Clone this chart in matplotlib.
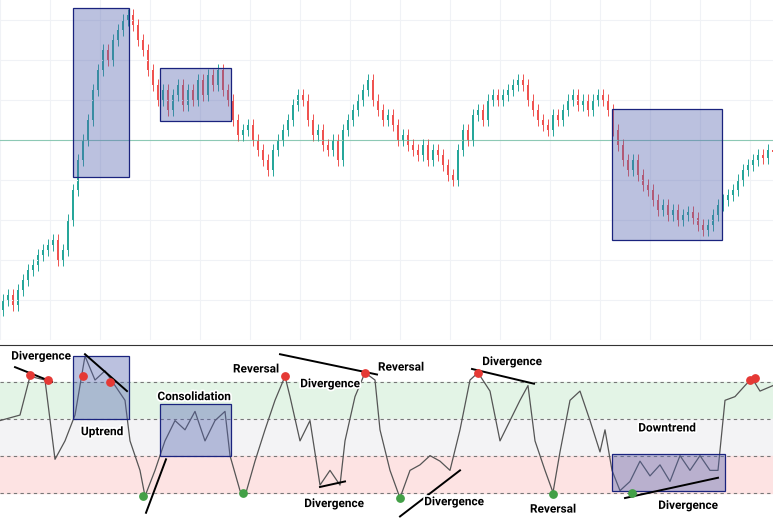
import matplotlib

matplotlib.use("Agg")
import matplotlib.pyplot as plt
import matplotlib.patheffects as pe
from matplotlib.patches import Rectangle
import numpy as np

# price closes, one candle every 5 px of width
closes = [
    40, 45, 35, 50, 60, 70, 75, 85, 90, 95,
    100, 80, 90, 120, 150, 180, 200, 220, 250, 270,
    290, 280, 300, 310, 320, 325, 315, 300, 290, 270,
    255, 240, 250, 230, 245, 255, 235, 250, 240, 260,
    245, 265, 255, 270, 250, 240, 220, 205, 210, 215,
    200, 190, 180, 170, 190, 200, 210, 220, 235, 245,
    240, 220, 205, 210, 195, 190, 200, 180, 210, 220,
    230, 240, 250, 260, 240, 230, 220, 225, 215, 200,
    205, 195, 190, 185, 195, 180, 190, 185, 175, 165,
    160, 190, 210, 200, 225, 230, 220, 240, 245, 240,
    245, 250, 255, 260, 255, 240, 230, 220, 215, 210,
    225, 220, 230, 240, 245, 235, 240, 230, 240, 245,
    240, 230, 210, 195, 180, 170, 180, 165, 155, 150,
    140, 130, 135, 125, 130, 120, 125, 128, 122, 115,
    110, 115, 125, 135, 140, 145, 150, 160, 170, 175,
    180, 185, 182, 190, 188,
]
first_open = 30
ref_level = 200

# highlight boxes on price panel: x0, x1, low, high
price_boxes = [(73, 129, 163, 332), (160, 231, 219, 272), (612, 722, 100, 231)]

# oscillator
osc_x = [0, 20, 30, 45, 55, 65, 75, 85, 95, 105, 115, 125, 130, 140, 145, 155, 165, 175,
         185, 195, 205, 215, 225, 230, 240, 245, 255, 265, 275, 285, 290, 300, 310, 320,
         330, 340, 345, 355, 365, 375, 380, 390, 400, 410, 420, 430, 440, 450, 460, 470,
         478, 490, 500, 510, 520, 528, 535, 545, 553, 560, 570, 580, 590, 600, 605, 612,
         620, 630, 640, 650, 660, 670, 680, 690, 700, 710, 718, 725, 735, 745, 752, 760, 773]
osc_y = [59, 62, 83, 81, 38, 48, 62, 94, 81, 86, 78, 70, 48, 32, 18, 32, 48, 59,
         54, 64, 48, 59, 64, 40, 21, 18, 37, 54, 70, 83, 72, 48, 59, 24,
         32, 24, 48, 72, 85, 81, 54, 32, 17, 32, 35, 40, 37, 32, 54, 81,
         85, 75, 48, 59, 70, 78, 48, 32, 20, 42, 70, 75, 59, 42, 54, 32,
         21, 26, 37, 29, 35, 26, 40, 32, 40, 32, 32, 70, 72, 78, 82, 75, 78]
levels = [80, 60, 40, 20]
red_x = [30, 48, 83, 110, 285, 365, 478, 750, 755]
red_y = [84, 81, 83, 80, 83, 85, 85, 81, 82]
green_x = [143, 243, 400, 553, 632]
green_y = [18, 20, 17, 19, 20]
osc_boxes = [(73, 129, 60, 94), (160, 231, 40, 68), (612, 725, 21, 41)]
trend_lines = [((15, 88), (52, 80)), ((85, 95), (127, 75)), ((146, 9), (166, 38)),
               ((280, 95), (377, 84)), ((320, 23), (345, 26)), ((400, 7), (460, 32)),
               ((472, 87), (534, 79)), ((625, 17), (718, 28))]
labels = [("Divergence", 41, 94), ("Uptrend", 102, 53), ("Consolidation", 194, 72),
          ("Reversal", 256, 87), ("Divergence", 330, 79), ("Divergence", 334, 14),
          ("Reversal", 401, 88), ("Divergence", 454, 15), ("Divergence", 512, 91),
          ("Reversal", 553, 11), ("Downtrend", 667, 55), ("Divergence", 688, 13)]

W, H = 773, 522
fig = plt.figure(figsize=(W / 100, H / 100), dpi=100)
ax = fig.add_axes([0, 1 - 340 / H, 1, 340 / H])
ax2 = fig.add_axes([0, 0, 1, 177 / H])

green, red = "#26a69a", "#ef5350"
box_fc, box_ec = "#5565b0", "#1a237e"
opens = [first_open] + closes[:-1]
for i, (o, c) in enumerate(zip(opens, closes)):
    x = 5 * i + 3
    col = green if c >= o else red
    lo, hi = min(o, c), max(o, c)
    ax.vlines(x, lo - 6, hi + 6, color=col, lw=0.7)
    ax.add_patch(Rectangle((x - 1.2, lo), 2.4, max(hi - lo, 1), color=col, lw=0))
ax.axhline(ref_level, color="#4caf8a", lw=0.8, alpha=0.6)
for x0, x1, lo, hi in price_boxes:
    ax.add_patch(Rectangle((x0, lo), x1 - x0, hi - lo, fc=box_fc, alpha=0.4, ec="none", zorder=3))
    ax.add_patch(Rectangle((x0, lo), x1 - x0, hi - lo, fc="none", ec=box_ec, lw=0.9, zorder=3))
ax.set_xlim(0, W)
ax.set_ylim(0, 340)
ax.set_xticks(np.arange(0, W, 50))
ax.set_yticks(np.arange(0, 340, 40))
ax.grid(True, color="#f0f2f6", lw=0.8)
ax.tick_params(length=0, labelbottom=False, labelleft=False)
for s in ax.spines.values():
    s.set_visible(False)

# oscillator panel
ax2.axhspan(levels[1], levels[0], color="#e3f4e6")
ax2.axhspan(levels[2], levels[1], color="#f3f3f5")
ax2.axhspan(levels[3], levels[2], color="#fde3e3")
for lv in levels:
    ax2.axhline(lv, color="#777", lw=0.8, ls=(0, (3, 3)))
ax2.plot(osc_x, osc_y, color="#555", lw=0.9)
for x0, x1, lo, hi in osc_boxes:
    ax2.add_patch(Rectangle((x0, lo), x1 - x0, hi - lo, fc=box_fc, alpha=0.4, ec="none", zorder=3))
    ax2.add_patch(Rectangle((x0, lo), x1 - x0, hi - lo, fc="none", ec=box_ec, lw=0.9, zorder=3))
for (x0, y0), (x1, y1) in trend_lines:
    ax2.plot([x0, x1], [y0, y1], color="black", lw=1.4, zorder=4)
ax2.scatter(red_x, red_y, s=28, color="#e53935", zorder=5)
ax2.scatter(green_x, green_y, s=28, color="#43a047", zorder=5)
for t, x, y in labels:
    ax2.text(x, y, t, ha="center", va="center", fontsize=8.5, fontweight="bold",
             family=["Roboto", "DejaVu Sans"], zorder=6,
             path_effects=[pe.withStroke(linewidth=2.5, foreground="white")])
ax2.set_xlim(0, W)
ax2.set_ylim(4, 100)
ax2.set_xticks([])
ax2.set_yticks([])
for k, s in ax2.spines.items():
    s.set_visible(k == "top")
ax2.spines["top"].set_color("#333")

fig.savefig("out.png", dpi=100)
